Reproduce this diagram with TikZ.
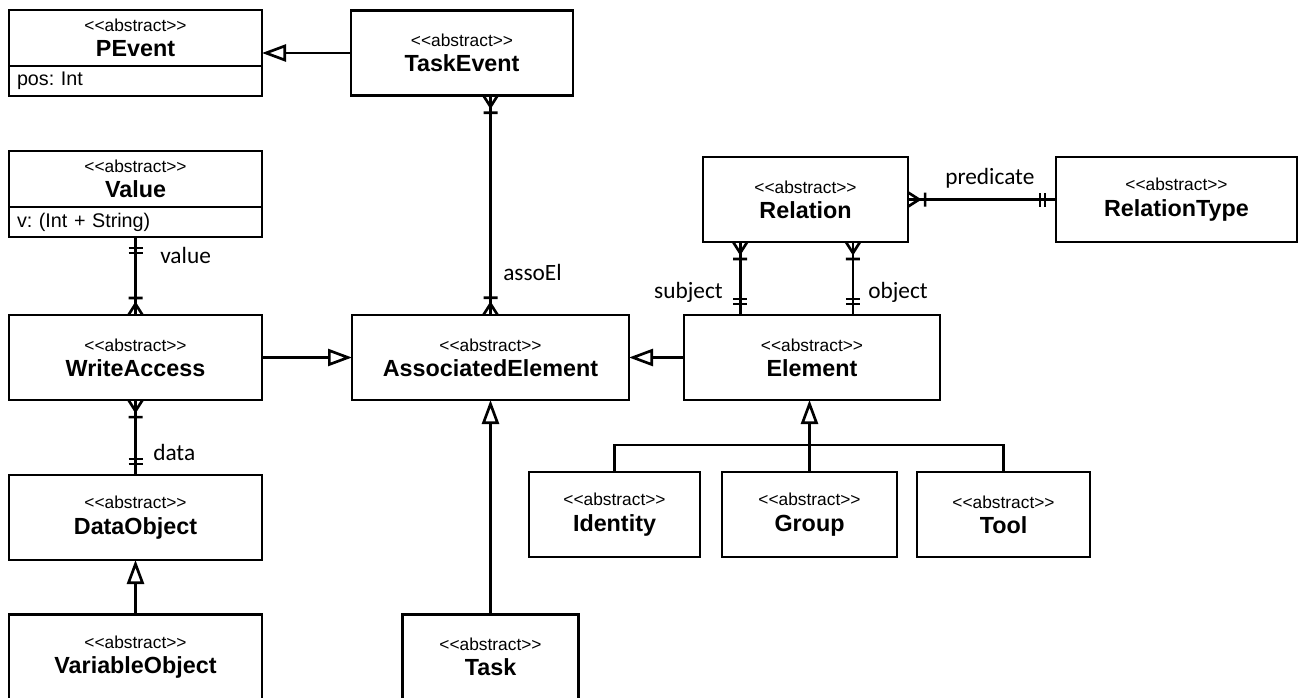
\documentclass[tikz,border=0pt]{standalone}
\usepackage{fontspec}
\setmainfont{Liberation Sans}
\newfontfamily\lblfont{Carlito}
\usetikzlibrary{arrows.meta,decorations.markings}
\frenchspacing
\newcommand{\abst}{{\mdseries\fontsize{13}{19}\selectfont <{}<abstract>{}>}}

\tikzset{
	cls/.style={draw, line width=2pt, outer sep=0pt, minimum height=63.75pt, align=center, inner sep=0pt, font=\fontsize{17.5}{19}\selectfont\bfseries},
	clshead/.style={cls, minimum height=42pt},
	clsattr/.style={draw, line width=2pt, outer sep=0pt, minimum height=22.5pt, text width=177.75pt, inner xsep=6pt, inner ysep=0pt, align=left, anchor=north, font=\fontsize{14.8}{16}\selectfont},
	lbl/.style={inner sep=0pt, font=\lblfont\fontsize{17.5}{20}\selectfont},
	conn/.style={line width=2pt},
	gen/.style={conn, -{Triangle[open, length=18pt, width=12.75pt]}},
	crowfrom/.style={postaction={decorate, decoration={markings, mark=at position 0.001 with {\draw[line width=2pt] (8.25pt,0pt) -- (0pt,5.25pt) (8.25pt,0pt) -- (0pt,-5.25pt) (12.75pt,-5.25pt) -- (12.75pt,5.25pt);}}}},
	crowto/.style={postaction={decorate, decoration={markings, mark=at position 0.999 with {\draw[line width=2pt] (-8.25pt,0pt) -- (0pt,5.25pt) (-8.25pt,0pt) -- (0pt,-5.25pt) (-12.75pt,-5.25pt) -- (-12.75pt,5.25pt);}}}},
	barsfrom/.style={postaction={decorate, decoration={markings, mark=at position 0.001 with {\draw[line width=2pt] (8.25pt,-5.25pt) -- (8.25pt,5.25pt) (12pt,-5.25pt) -- (12pt,5.25pt);}}}},
	barsto/.style={postaction={decorate, decoration={markings, mark=at position 0.999 with {\draw[line width=2pt] (-8.25pt,-5.25pt) -- (-8.25pt,5.25pt) (-12pt,-5.25pt) -- (-12pt,5.25pt);}}}}
}

\begin{document}
\begin{tikzpicture}[x=0.75pt, y=-0.75pt]
			\useasboundingbox (0,0) rectangle (1309,697);
			\clip (0,0) rectangle (1309,697);
			\node (pevent) at (135.5,38) [clshead, minimum width=189.75pt] {\abst\\PEvent};
			\node (peventattr) at (pevent.south) [clsattr] {pos: Int};
			\node (taskevent) at (462,53) [cls, minimum width=166.5pt] {\abst\\TaskEvent};
			\node (value) at (135.5,179) [clshead, minimum width=189.75pt] {\abst\\Value};
			\node (valueattr) at (value.south) [clsattr] {v: (Int + String)};
			\node (relation) at (805.5,199.5) [cls, minimum width=153.75pt] {\abst\\Relation};
			\node (reltype) at (1176.5,199.5) [cls, minimum width=180.75pt] {\abst\\RelationType};
			\node (writeacc) at (135.5,357.5) [cls, minimum width=189.75pt] {\abst\\WriteAccess};
			\node (assoel) at (490.5,357.5) [cls, minimum width=207.75pt] {\abst\\AssociatedElement};
			\node (element) at (812,357.5) [cls, minimum width=192pt] {\abst\\Element};
			\node (dataobj) at (135.5,517.5) [cls, minimum width=189.75pt] {\abst\\DataObject};
			\node (identity) at (614.5,514.5) [cls, minimum width=128.25pt] {\abst\\Identity};
			\node (group) at (809.5,514.5) [cls, minimum width=131.25pt] {\abst\\Group};
			\node (tool) at (1003.5,514.5) [cls, minimum width=129.75pt] {\abst\\Tool};
			\node (varobj) at (135.5,657) [cls, minimum width=189.75pt] {\abst\\VariableObject};
			\node (task) at (490.5,657) [cls, minimum width=132pt] {\abst\\Task};
			\draw[gen] (taskevent.west) -- (taskevent.west -| pevent.east);
			\draw[conn, crowfrom, crowto] (taskevent.south -| assoel.north) -- (assoel.north);
			\draw[conn, barsfrom, crowto] (valueattr.south) -- (writeacc.north);
			\draw[conn, crowfrom, barsto] (writeacc.south) -- (dataobj.north);
			\draw[gen] (writeacc.east) -- (assoel.west);
			\draw[gen] (element.west) -- (assoel.east);
			\draw[gen] (task.north) -- (assoel.south);
			\draw[gen] (varobj.north) -- (dataobj.south);
			\draw[conn, crowfrom, barsto] ([xshift=-49pt]relation.south) -- ([xshift=-49pt]relation.south |- element.north);
			\draw[conn, crowfrom, barsto] ([xshift=35.6pt]relation.south) -- ([xshift=35.6pt]relation.south |- element.north);
			\draw[conn, crowfrom, barsto] (relation.east) -- (reltype.west);
			\draw[gen] (group.north) -- (group.north |- element.south);
			\draw[conn] (identity.north) -- ++(0,-27) -| (tool.north);
			\node (valuelbl) at (160,255) [lbl, anchor=west] {value};
			\node (datalbl) at (153,452) [lbl, anchor=west] {data};
			\node (assoellbl) at (503,272) [lbl, anchor=west] {assoEl};
			\node (subjlbl) at (723,292) [lbl, anchor=east] {subject};
			\node (objlbl) at (868,292) [lbl, anchor=west] {object};
			\node (predlbl) at (945,178) [lbl, anchor=west] {predicate};
\end{tikzpicture}
\end{document}
